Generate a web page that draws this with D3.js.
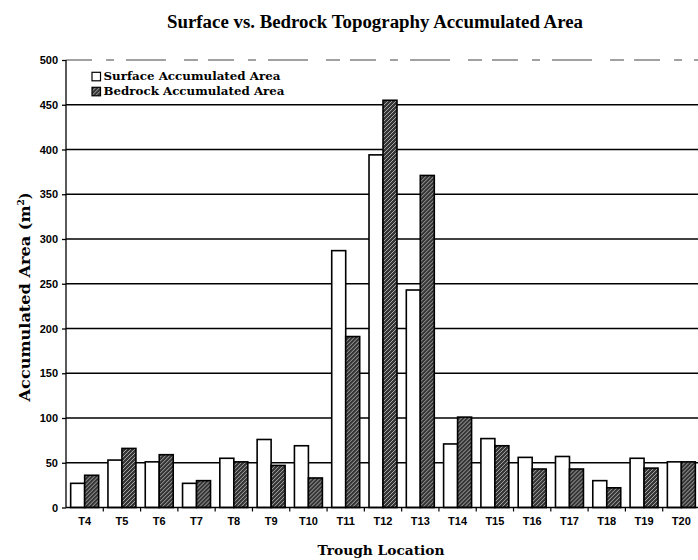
<!DOCTYPE html>
<html>
<head>
<meta charset="utf-8">
<script src="https://cdn.jsdelivr.net/npm/d3@7"></script>
<style>
  body { margin: 0; background: #fff; }
  .serif { font-family: "Liberation Serif", "Times New Roman", serif; font-weight: bold; }
  .wide { font-family: "DejaVu Serif", serif; font-weight: bold; }
  .axis text { font-family: "Liberation Sans", Arial, sans-serif; font-weight: bold; font-size: 11px; fill: #000; }
  .axis path, .axis line { stroke: #000; stroke-width: 1.3; }
</style>
</head>
<body>
<script>
const troughs = ["T4", "T5", "T6", "T7", "T8", "T9", "T10", "T11", "T12", "T13",
                 "T14", "T15", "T16", "T17", "T18", "T19", "T20"];
const surfaceArea = [27, 53, 51, 27, 55, 76, 69, 287, 394, 243, 71, 77, 56, 57, 30, 55, 51];
const bedrockArea = [36, 66, 59, 30, 51, 47, 33, 191, 455, 371, 101, 69, 43, 43, 22, 44, 51];
const seriesNames = ["Surface Accumulated Area", "Bedrock Accumulated Area"];
const yTicks = [0, 50, 100, 150, 200, 250, 300, 350, 400, 450, 500];

const width = 698, height = 560;
const plotLeft = 66, plotRight = 700, plotTop = 60, plotBottom = 507.5;

const svg = d3.select("body").append("svg")
  .attr("width", width)
  .attr("height", height);

// stipple pattern for the bedrock bars
const defs = svg.append("defs");
const pat = defs.append("pattern")
  .attr("id", "bedrock")
  .attr("patternUnits", "userSpaceOnUse")
  .attr("width", 4)
  .attr("height", 4);
pat.append("rect").attr("width", 4).attr("height", 4).attr("fill", "#353535");
pat.append("path")
  .attr("d", "M0,4 L4,0 M-1,1 L1,-1 M3,5 L5,3")
  .attr("stroke", "#a8a8a8")
  .attr("stroke-width", 1);

const x0 = d3.scaleBand()
  .domain(troughs)
  .range([plotLeft, plotRight])
  .paddingInner(0.25)
  .paddingOuter(0.125);

const x1 = d3.scaleBand()
  .domain(seriesNames)
  .range([0, x0.bandwidth()]);

const y = d3.scaleLinear()
  .domain([0, 500])
  .range([plotBottom, plotTop]);

// grid lines
svg.append("g")
  .selectAll("line")
  .data(yTicks.filter(d => d > 0))
  .join("line")
  .attr("x1", plotLeft)
  .attr("x2", plotRight)
  .attr("y1", d => y(d))
  .attr("y2", d => y(d))
  .attr("stroke", d => d == 500 ? "#444" : "#000")
  .attr("stroke-dasharray", d => d == 500 ? "26,14,8,12,40,18,14,10" : null)
  .attr("stroke-width", d => d == 500 ? 1 : 1.3);

// bars
const rows = troughs.map((t, i) => ({ t, values: [surfaceArea[i], bedrockArea[i]] }));

svg.append("g")
  .selectAll("g")
  .data(rows)
  .join("g")
  .attr("transform", d => `translate(${x0(d.t)},0)`)
  .selectAll("rect")
  .data(d => d.values.map((v, k) => ({ name: seriesNames[k], v, k })))
  .join("rect")
  .attr("x", d => x1(d.name))
  .attr("width", x1.bandwidth())
  .attr("y", d => y(d.v))
  .attr("height", d => y(0) - y(d.v))
  .attr("fill", d => d.k == 0 ? "#fff" : "url(#bedrock)")
  .attr("stroke", "#000")
  .attr("stroke-width", 1.6);

// axes
const yAxis = d3.axisLeft(y).tickValues(yTicks).tickSize(4).tickPadding(4);
svg.append("g")
  .attr("class", "axis")
  .attr("transform", `translate(${plotLeft},0)`)
  .call(yAxis)
  .call(g => g.select(".domain").attr("d", `M0,${plotTop}V${plotBottom}`));

const xAxis = d3.axisBottom(x0).tickSize(0).tickPadding(10);
svg.append("g")
  .attr("class", "axis")
  .attr("transform", `translate(0,${plotBottom})`)
  .call(xAxis)
  .call(g => g.select(".domain").attr("d", `M${plotLeft},0H${plotRight}`));

// small ticks between groups
svg.append("g")
  .selectAll("line")
  .data(troughs.slice(1))
  .join("line")
  .attr("x1", d => x0(d) - x0.step() * x0.paddingInner() / 2)
  .attr("x2", d => x0(d) - x0.step() * x0.paddingInner() / 2)
  .attr("y1", plotBottom)
  .attr("y2", plotBottom + 4)
  .attr("stroke", "#000")
  .attr("stroke-width", 1.2);

// titles
svg.append("text")
  .attr("class", "serif")
  .attr("x", 375)
  .attr("y", 28)
  .attr("text-anchor", "middle")
  .attr("font-size", 18.5)
  .attr("textLength", 416)
  .attr("lengthAdjust", "spacingAndGlyphs")
  .text("Surface vs. Bedrock Topography Accumulated Area");

svg.append("text")
  .attr("class", "wide")
  .attr("x", 381)
  .attr("y", 555)
  .attr("text-anchor", "middle")
  .attr("font-size", 13)
  .attr("textLength", 127)
  .attr("lengthAdjust", "spacingAndGlyphs")
  .text("Trough Location");

const yTitle = svg.append("text")
  .attr("class", "wide")
  .attr("transform", `translate(30,297) rotate(-90)`)
  .attr("text-anchor", "middle")
  .attr("font-size", 14);
yTitle.append("tspan")
  .attr("textLength", 196)
  .attr("lengthAdjust", "spacingAndGlyphs")
  .text("Accumulated Area (m");
yTitle.append("tspan").attr("dy", -6).attr("font-size", 9).text("2");
yTitle.append("tspan").attr("dy", 6).text(")");

// legend
const legend = svg.append("g")
  .selectAll("g")
  .data(seriesNames)
  .join("g")
  .attr("transform", (d, i) => `translate(92,${80.3 + i * 15})`);

legend.append("rect")
  .attr("y", -8)
  .attr("width", 8.5)
  .attr("height", 8.5)
  .attr("fill", (d, i) => i == 0 ? "#fff" : "url(#bedrock)")
  .attr("stroke", "#000")
  .attr("stroke-width", 1.2);

legend.append("text")
  .attr("class", "wide")
  .attr("x", 11.5)
  .attr("font-size", 11.5)
  .attr("textLength", (d, i) => i == 0 ? 177 : 181)
  .attr("lengthAdjust", "spacingAndGlyphs")
  .text(d => d);
</script>
</body>
</html>
